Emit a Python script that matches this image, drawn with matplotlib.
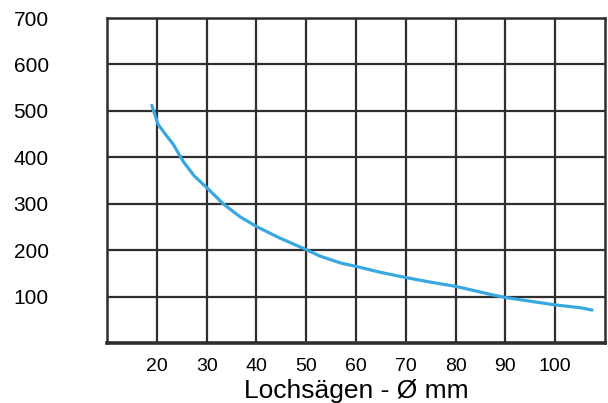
import matplotlib
matplotlib.use("Agg")
import matplotlib.pyplot as plt

# Data
diameter_mm = [19, 20.2, 21.7, 23.3, 25.3, 27.5, 30.3, 33.3, 36.7, 40, 44.7,
               49.4, 52.8, 57, 60, 65, 70, 75, 80, 87.7, 90, 95, 100, 105, 107.4]
speed = [512, 472, 450, 428, 391, 360, 332, 300, 272, 251, 226,
         204, 187, 172, 165, 152, 141, 131, 122, 103, 98, 90, 82, 76, 71]
x_ticks = [20, 30, 40, 50, 60, 70, 80, 90, 100]
y_ticks = [100, 200, 300, 400, 500, 600, 700]
x_label = "Lochsägen - Ø mm"

plt.rcParams['font.family'] = ['Liberation Sans', 'DejaVu Sans']

fig = plt.figure(figsize=(6.08, 4.03), dpi=100)
ax = fig.add_axes([107/608, 1 - 343/403, (605-107)/608, (343-18)/403])

ax.set_xlim(10, 110)
ax.set_ylim(0, 700)
ax.set_xticks(x_ticks)
ax.set_yticks(y_ticks)
ax.set_xticklabels([str(v) for v in x_ticks], fontsize=14)
ax.set_yticklabels([str(v) for v in y_ticks], fontsize=15)
ax.tick_params(axis='both', length=0)
ax.tick_params(axis='y', pad=42)
ax.tick_params(axis='x', pad=11)

ax.grid(True, color='#2e2e2e', linewidth=1.6)
ax.set_axisbelow(True)
for side, sp in ax.spines.items():
    sp.set_color('#2e2e2e')
    sp.set_linewidth(1.8)
ax.spines['bottom'].set_linewidth(2.6)

ax.plot(diameter_mm, speed, color='#3aa8e0', linewidth=2.3,
        solid_capstyle='round', solid_joinstyle='round', zorder=3)

ax.set_xlabel(x_label, fontsize=19, labelpad=3)

fig.savefig("out.png", dpi=100)
